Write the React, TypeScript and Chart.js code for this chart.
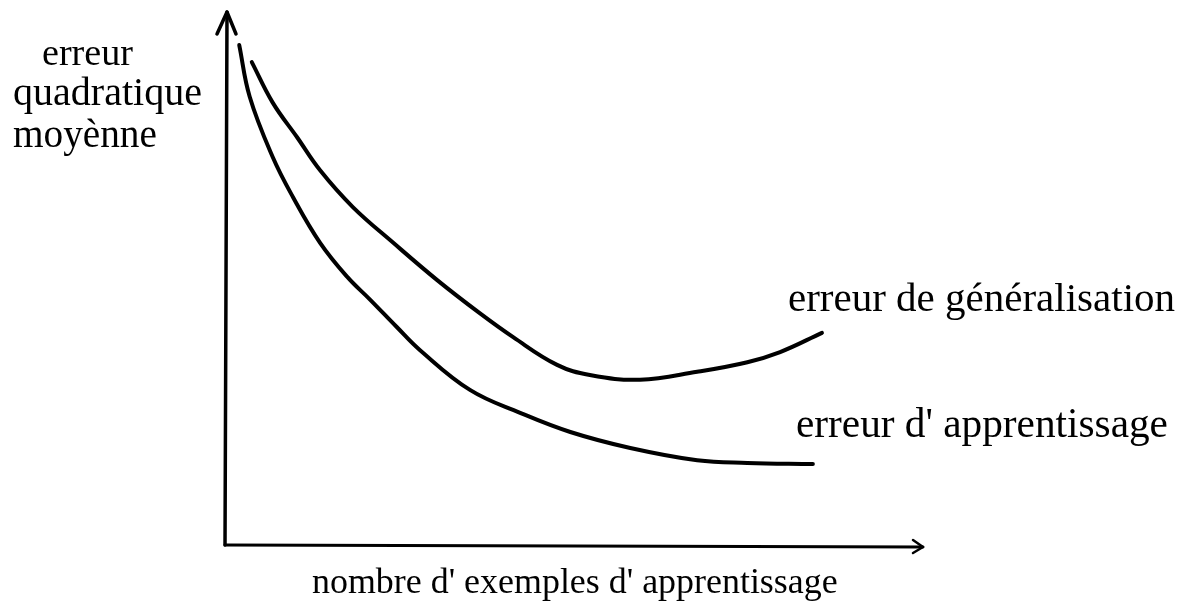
import React, { useEffect, useRef } from "react";
import { Chart, registerables } from "chart.js";

Chart.register(...registerables);

// x: nombre d'exemples (relative units 0..100), y: erreur (relative units 0..100)
const trainX = [1.9, 3.4, 6.7, 9.6, 13.5, 17.4, 20.7, 24.5, 27.8, 35.0, 42.2, 49.4, 58.0, 67.6, 74.8, 84.2];
const trainY = [93.8, 84.1, 72.8, 65.3, 56.7, 50.3, 46.0, 40.9, 36.6, 29.1, 24.8, 21.2, 18.2, 15.9, 15.4, 15.2];

const genX = [3.7, 6.7, 10.2, 13.5, 18.2, 24.0, 30.3, 36.4, 41.2, 47.5, 52.2, 59.4, 67.6, 74.8, 79.5, 85.5];
const genY = [90.6, 83.0, 76.5, 70.3, 63.4, 56.7, 49.7, 43.5, 39.0, 33.8, 31.9, 31.0, 32.5, 34.3, 36.2, 39.8];

const yTitleLines = ["erreur", "quadratique", "moyènne"];
const xTitle = "nombre d' exemples d' apprentissage";
const genLabel = "erreur de généralisation";
const trainLabel = "erreur d' apprentissage";

const FONT = '"Liberation Serif", "DejaVu Serif", serif';

function drawFitted(ctx: CanvasRenderingContext2D, text: string, x: number, y: number, w: number) {
  ctx.font = `40px ${FONT}`;
  const m = ctx.measureText(text).width;
  const size = (40 * w) / m;
  ctx.font = `${size.toFixed(2)}px ${FONT}`;
  ctx.fillText(text, x, y);
}

const decorPlugin = {
  id: "decor",
  beforeDatasetsDraw(chart: any) {
    const { ctx, chartArea } = chart;
    const { left, right, top, bottom } = chartArea;
    ctx.save();
    ctx.strokeStyle = "#000";
    ctx.lineWidth = 3.5;
    ctx.lineCap = "round";
    ctx.lineJoin = "round";
    // y axis
    ctx.beginPath();
    ctx.moveTo(left - 1, bottom);
    ctx.lineTo(left + 1, top);
    ctx.stroke();
    ctx.beginPath();
    ctx.moveTo(left - 9, top + 22);
    ctx.lineTo(left + 1, top);
    ctx.lineTo(left + 10, top + 22);
    ctx.stroke();
    // x axis
    ctx.lineWidth = 3;
    ctx.beginPath();
    ctx.moveTo(left - 1, bottom);
    ctx.lineTo(right, bottom + 2);
    ctx.stroke();
    ctx.lineWidth = 2.5;
    ctx.beginPath();
    ctx.moveTo(right - 10, bottom - 5);
    ctx.lineTo(right, bottom + 2);
    ctx.lineTo(right - 10, bottom + 8);
    ctx.stroke();

    // texts
    ctx.fillStyle = "#000";
    ctx.textBaseline = "alphabetic";
    ctx.textAlign = "left";
    drawFitted(ctx, yTitleLines[0], 42, 65, 91);
    drawFitted(ctx, yTitleLines[1], 13, 105, 189);
    drawFitted(ctx, yTitleLines[2], 13, 147, 144);
    drawFitted(ctx, xTitle, 312, 593, 526);
    drawFitted(ctx, genLabel, 788, 311, 387);
    drawFitted(ctx, trainLabel, 796, 437, 372);
    ctx.restore();
  },
};

export default function App() {
  const ref = useRef<HTMLCanvasElement | null>(null);
  useEffect(() => {
    if (!ref.current) return;
    const common = {
      borderColor: "#000",
      borderWidth: 4,
      pointRadius: 0,
      tension: 0.4,
      borderCapStyle: "round",
      borderJoinStyle: "round",
      fill: false,
    };
    const chart = new Chart(ref.current, {
      type: "line",
      data: {
        datasets: [
          { label: trainLabel, data: trainX.map((x, i) => ({ x, y: trainY[i] })), ...common },
          { label: genLabel, data: genX.map((x, i) => ({ x, y: genY[i] })), ...common },
        ],
      },
      options: {
        animation: false,
        responsive: false,
        maintainAspectRatio: false,
        layout: { padding: { left: 226, right: 272, top: 12, bottom: 58 } },
        plugins: { legend: { display: false }, tooltip: { enabled: false }, title: { display: false } },
        scales: {
          x: { type: "linear", min: 0, max: 100, display: false },
          y: { type: "linear", min: 0, max: 100, display: false },
        },
      },
      plugins: [decorPlugin],
    } as any);
    return () => chart.destroy();
  }, []);
  return (
    <div style={{ position: "absolute", left: 0, top: 0, width: 1195, height: 603, background: "#fff" }}>
      <canvas ref={ref} width={1195} height={603} style={{ display: "block" }} />
    </div>
  );
}
